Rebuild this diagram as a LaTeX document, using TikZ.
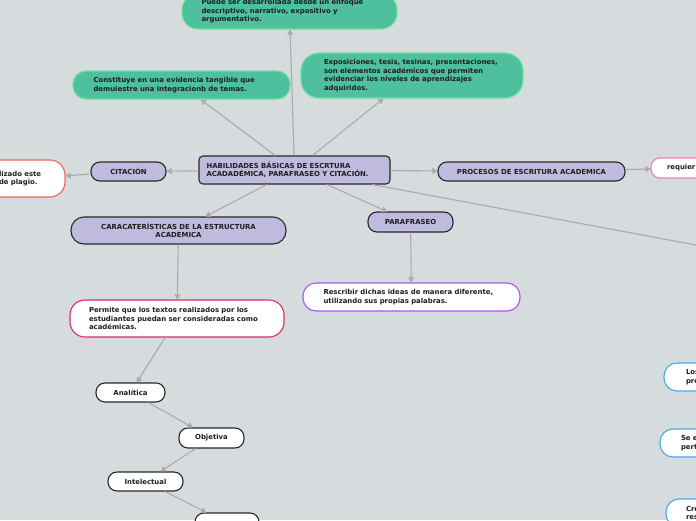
\documentclass[tikz,border=0pt]{standalone}
\usepackage{fontspec}
\setmainfont{DejaVu Sans}
\usepackage{xcolor}
\usepackage{tikz}
\usetikzlibrary{positioning, arrows.meta, calc}

\definecolor{mapbg}{RGB}{214,219,222}
\definecolor{lavender}{RGB}{191,186,222}
\definecolor{nodeline}{RGB}{40,40,40}
\definecolor{greenfill}{RGB}{78,192,160}
\definecolor{greenline}{RGB}{105,228,150}
\definecolor{linkgrey}{RGB}{170,170,170}
\definecolor{salmonline}{RGB}{240,100,90}
\definecolor{pinkline}{RGB}{240,130,170}
\definecolor{violetline}{RGB}{180,80,240}
\definecolor{crimsonline}{RGB}{230,40,100}
\definecolor{blueline}{RGB}{70,170,230}

\begin{document}
\begin{tikzpicture}[x=1pt, y=-1pt,
    base/.style={font=\bfseries\fontsize{6.9}{8.5}\selectfont, text={rgb,255:red,30;green,30;blue,30}, inner sep=0pt, line width=1.1pt},
    central/.style={base, draw=nodeline, fill=lavender, rounded corners=4pt, align=left, text width=176},
    topic/.style={base, draw=nodeline, fill=lavender, rounded corners=9pt},
    green/.style={base, draw=greenline, fill=greenfill, rounded corners=13pt, align=left, text width=176},
    leaf/.style={base, fill=white, rounded corners=9pt},
    note/.style={base, fill=white, rounded corners=13pt, align=left, text width=176},
    link/.style={draw=linkgrey, line width=1.1pt, -{Triangle[length=5pt, width=6pt]}}]
  \useasboundingbox (0,0) rectangle (696,520);
  \clip (0,0) rectangle (696,520);
  \fill[mapbg] (0,0) rectangle (696,520);

  \node[central, minimum width=191, minimum height=28] (habilidades) at (294.5,170) {HABILIDADES BÁSICAS DE ESCRTURA\\ACADADÉMICA, PARAFRASEO Y CITACIÓN.};

  \node[green, minimum width=215, minimum height=35, rounded corners=16pt] (enfoque) at (289.5,11.5) {Puede ser desarrollada desde un enfoque\\descriptivo, narrativo, expositivo y\\argumentativo.};
  \node[green, minimum width=217, minimum height=28] (evidencia) at (181.5,85) {Constituye en una evidencia tangible que\\demuiestre una integracionb de temas.};
  \node[green, minimum width=222, minimum height=45, rounded corners=18pt] (exposiciones) at (412,75.5) {Exposiciones, tesis, tesinas, presentaciones,\\son elementos académicos que permiten\\evidenciar los niveles de aprendizajes\\adquiridos.};

  \node[topic, minimum width=75, minimum height=19] (citacion) at (128.5,171.5) {CITACIÓN};
  \node[note, draw=salmonline, text width=52, minimum width=80, minimum height=37, rounded corners=15pt] (plagio) at (25,178.5) {lizado este\\de plagio.};

  \node[topic, minimum width=187, minimum height=19] (procesos) at (531.5,171.5) {PROCESOS DE ESCRITURA ACADEMICA};
  \node[leaf, draw=pinkline, align=left, text width=66, minimum width=98, minimum height=20] (requier) at (700,168) {requier};

  \node[topic, minimum width=85, minimum height=20] (parafraseo) at (410.5,222) {PARAFRASEO};
  \node[note, draw=violetline, minimum width=217, minimum height=28] (rescribir) at (411.5,297) {Rescribir dichas ideas de manera diferente,\\utilizando sus propias palabras.};

  \node[topic, align=center, minimum width=215, minimum height=27, rounded corners=13pt] (estructura) at (178.5,230.5) {CARACATERÍSTICAS DE LA ESTRUCTURA\\ACADEMICA};
  \node[note, draw=crimsonline, minimum width=214, minimum height=37, rounded corners=15pt] (permite) at (177,318.5) {Permite que los textos realizados por los\\estudiantes puedan ser consideradas como\\académicas.};
  \node[leaf, draw=nodeline, minimum width=69, minimum height=19] (analitica) at (130.5,392.5) {Analítica};
  \node[leaf, draw=nodeline, minimum width=65, minimum height=20] (objetiva) at (211.5,438) {Objetiva};
  \node[leaf, draw=nodeline, minimum width=75, minimum height=19] (intelectual) at (145.5,481.5) {Intelectual};
  \node[leaf, draw=nodeline, minimum width=64, minimum height=20] (siguiente) at (227,523) {};

  \coordinate (fuera) at (760,257);
  \node[note, draw=blueline, text width=68, minimum width=112, minimum height=28] (los) at (720,377) {Los\\pro};
  \node[note, draw=blueline, text width=78, minimum width=120, minimum height=28] (see) at (720,443) {Se e\\pert};
  \node[note, draw=blueline, text width=68, minimum width=108, minimum height=28] (cre) at (720,513) {Cre\\res};

  \draw[link] (habilidades) -- (enfoque);
  \draw[link] (habilidades) -- (evidencia);
  \draw[link] (habilidades) -- (exposiciones);
  \draw[link] (habilidades) -- (citacion);
  \draw[link] (citacion) -- (plagio);
  \draw[link] (habilidades) -- (procesos);
  \draw[link] (procesos) -- (requier);
  \draw[link] (habilidades) -- (parafraseo);
  \draw[link] (parafraseo) -- (rescribir);
  \draw[link] (habilidades) -- (estructura);
  \draw[link] (estructura) -- (permite);
  \draw[link] (permite) -- (analitica);
  \draw[link] (analitica) -- (objetiva);
  \draw[link] (objetiva) -- (intelectual);
  \draw[link] (intelectual) -- (siguiente);
  \draw[link, -] (habilidades) -- (fuera);
\end{tikzpicture}
\end{document}
